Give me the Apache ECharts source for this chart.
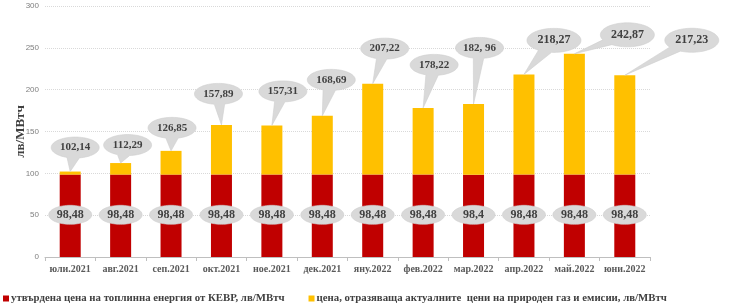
<!DOCTYPE html>
<html>
<head>
<meta charset="utf-8">
<script src="https://cdn.jsdelivr.net/npm/echarts@6/dist/echarts.min.js"></script>
<style>
html,body{margin:0;padding:0;background:#fff;}
#chart{width:730px;height:306px;}
</style>
</head>
<body>
<div id="chart"></div>
<script>
// категории (месеци)
var months = ['юли.2021','авг.2021','сеп.2021','окт.2021','ное.2021','дек.2021','яну.2022','фев.2022','мар.2022','апр.2022','май.2022','юни.2022'];
// утвърдена цена от КЕВР
var kevrPrice = [98.48,98.48,98.48,98.48,98.48,98.48,98.48,98.48,98.4,98.48,98.48,98.48];
// обща цена (горните етикети)
var totalPrice = [102.14,112.29,126.85,157.89,157.31,168.69,207.22,178.22,182.96,218.27,242.87,217.23];
var totalLabels = ['102,14','112,29','126,85','157,89','157,31','168,69','207,22','178,22','182, 96','218,27','242,87','217,23'];
var kevrLabels = ['98,48','98,48','98,48','98,48','98,48','98,48','98,48','98,48','98,4','98,48','98,48','98,48'];
// отместване на балончетата спрямо върха на стълба (px)
var calloutDx = [5,7,1,-3,11,9,12,11,6,30,53,67];
var calloutDy = [-24,-18,-23,-31,-34,-36,-35,-43,-56,-34,-19,-35];

var legendA = 'утвърдена цена на топлинна енергия от КЕВР, лв/МВтч';
var legendB = 'цена, отразяваща актуалните  цени на природен газ и емисии, лв/МВтч';

var gasPart = [];
for(var i=0;i<totalPrice.length;i++){
	gasPart.push(+(totalPrice[i]-kevrPrice[i]).toFixed(2));
}

var serif = '"Liberation Serif","DejaVu Serif",serif';

// елипса с (или без) опашка към точка
function calloutPoints(cx, cy, rx, ry, tip){
	var pts = [];
	var n = 72;
	var ang = null;
	if(tip){
		ang = Math.atan2((tip[1]-cy)/ry, (tip[0]-cx)/rx);
	}
	var inserted = false;
	for(var k=0;k<n;k++){
		var a = -Math.PI + 2*Math.PI*k/n;
		if(ang!==null){
			var d = Math.atan2(Math.sin(a-ang), Math.cos(a-ang));
			if(Math.abs(d)<0.2){
				if(!inserted){ pts.push([tip[0], tip[1]]); inserted = true; }
				continue;
			}
		}
		pts.push([cx+rx*Math.cos(a), cy+ry*Math.sin(a)]);
	}
	return pts;
}

function renderTop(params, api){
	var i = params.dataIndex;
	var tip = api.coord([api.value(0), api.value(1)]);
	var cx = tip[0]+calloutDx[i], cy = tip[1]+calloutDy[i];
	var big = i>=9;
	var rx = big ? 27 : 24, ry = big ? 12 : 10.5;
	return {
		type:'group',
		children:[{
			type:'polygon',
			shape:{points:calloutPoints(cx,cy,rx,ry,tip)},
			style:{fill:'#D9D9D9',stroke:'#CFCFCF',lineWidth:0.6}
		},{
			type:'text',
			x:cx, y:cy,
			style:{text:totalLabels[i],fill:'#404040',font:'bold '+(big?12:11)+'px '+serif,align:'center',verticalAlign:'middle'}
		}]
	};
}

function renderMid(params, api){
	var i = params.dataIndex;
	var c = api.coord([api.value(0), api.value(1)/2]);
	return {
		type:'group',
		children:[{
			type:'polygon',
			shape:{points:calloutPoints(c[0],c[1]-1,21.5,9.5,null)},
			style:{fill:'#D9D9D9',stroke:'#CFCFCF',lineWidth:0.6}
		},{
			type:'text',
			x:c[0], y:c[1]-1,
			style:{text:kevrLabels[i],fill:'#404040',font:'bold 12px '+serif,align:'center',verticalAlign:'middle'}
		}]
	};
}

var topData = [], midData = [];
for(var j=0;j<months.length;j++){
	topData.push([j,totalPrice[j]]);
	midData.push([j,kevrPrice[j]]);
}

var myChart = echarts.init(document.getElementById('chart'));
var option = {
	animation:false,
	grid:{left:45,right:80,top:6,bottom:49,containLabel:false,outerBoundsMode:'none'},
	legend:{
		left:3,
		bottom:2,
		padding:0,
		itemWidth:6,
		itemHeight:6,
		itemGap:24,
		icon:'rect',
		textStyle:{fontFamily:serif,fontWeight:'bold',fontSize:10.8,color:'#404040',padding:[0,0,0,-3]},
		data:[legendA,legendB]
	},
	xAxis:{
		type:'category',
		data:months,
		axisLine:{lineStyle:{color:'#BFBFBF'}},
		axisTick:{show:true,length:4,lineStyle:{color:'#BFBFBF'}},
		axisLabel:{interval:0,fontFamily:serif,fontWeight:'bold',fontSize:10,color:'#595959',margin:7}
	},
	yAxis:{
		type:'value',
		min:0,max:300,interval:50,
		name:'лв/МВтч',
		nameLocation:'middle',
		nameGap:18,
		nameMoveOverlap:false,
		nameTextStyle:{fontFamily:serif,fontWeight:'bold',fontSize:13,color:'#404040'},
		axisLabel:{fontSize:8,color:'#7F7F7F',margin:6},
		splitLine:{lineStyle:{color:'#D9D9D9',type:'dotted'}}
	},
	series:[{
		name:legendA,
		type:'bar',
		stack:'total',
		barWidth:21,
		itemStyle:{color:'#C00000'},
		data:kevrPrice
	},{
		name:legendB,
		type:'bar',
		stack:'total',
		barWidth:21,
		itemStyle:{color:'#FFC000'},
		data:gasPart
	},{
		type:'custom',
		renderItem:renderMid,
		data:midData,
		z:5,
		silent:true
	},{
		type:'custom',
		renderItem:renderTop,
		data:topData,
		z:5,
		silent:true
	}]
};
myChart.setOption(option, true);
</script>
</body>
</html>
